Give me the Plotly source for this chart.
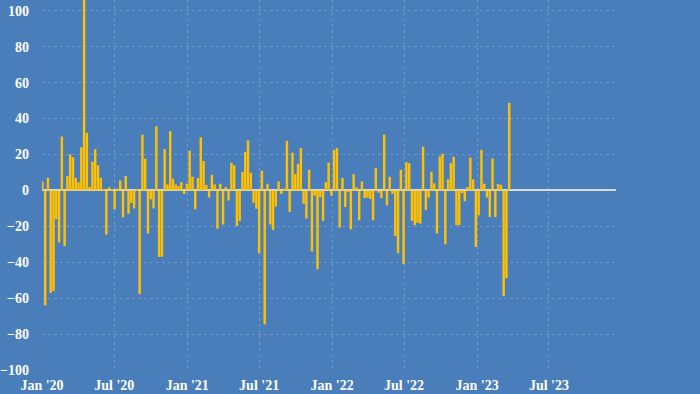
import pandas as pd
import plotly.graph_objects as go

start_date = "2020-01-02"
values = [
    5, -64, 7, -57, -56, -16, -29, 30, -31, 8,
    20, 18.5, 7, 4.5, 24, 115, 32, 2, 16, 23,
    14, 7, 0.5, -24.6, 1.7, 0.5, -10.5, 1, 5.5, -15,
    8, -13, -7, -10, 0.7, -57.8, 31, 17.6, -24, -5,
    -10, 35.7, -37, -37, 23, 3.3, 33, 6.5, 3.3, 2.4,
    4.6, -2, 3.7, 22, 7.6, -10.5, 6.9, 29.6, 16.3, 3,
    -4, 8.7, 3.3, -21.3, 3.7, -19, 1.9, -5.6, 15.4, 14,
    -19.8, -17, 10.2, 21.5, 27.8, 9.8, -6.9, -10.2, -35, 11,
    -74.6, 3.7, -19, -22, -9, 5, -2, 1, 27.6, -12,
    21, 9, 14.8, 23.5, -7.4, -15.7, 11.5, -34, -3, -43.9,
    -3.7, -17, 4.6, 15.4, -3, 22.6, 23.5, -20.7, 6.9, -9.3,
    -1, -21.7, 9, 1.7, -16.7, 5, -4.3, -4, -4.8, -16.7,
    12.6, -1.3, -4.3, 31, -8.3, 7.6, -1.9, -25.4, -35, 11.5,
    -41, 15.6, 15.2, -17, -19.4, -18, -18.5, 24.3, -11, -4,
    10.4, 3.9, -24, 18.9, 20.4, -30, 6.1, 15.2, 18.7, -19.4,
    -19.4, -1.5, -6, 1.9, 18.3, 6.1, -31.5, -13.9, 22.6, 3.7,
    -4, -14.8, 17.8, -14.8, 3.5, 3.1, -58.9, -48.9, 48.7,
]
dates = pd.date_range(start_date, periods=len(values), freq="7D")
y_ticks = [-100, -80, -60, -40, -20, 0, 20, 40, 60, 80, 100]

BG = "#4A7EBB"
TICKFONT = dict(family="Liberation Serif, DejaVu Serif, serif", size=14, color="white", weight="bold")

fig = go.Figure(go.Bar(x=dates, y=values, marker=dict(color="#FFC000", line=dict(width=0))))

fig.update_layout(
    width=700, height=394,
    paper_bgcolor=BG, plot_bgcolor=BG,
    margin=dict(l=42, r=84, t=0, b=24, autoexpand=False),
    bargap=0.12,
    showlegend=False,
)
fig.update_xaxes(
    range=["2020-01-01", "2023-12-17"],
    tick0="2020-01-01", dtick="M6", tickformat="%b '%y",
    showgrid=True, gridcolor="rgba(255,255,255,0.2)", griddash="dot", gridwidth=1,
    zeroline=False, showline=False, ticks="", ticklabelstandoff=5,
    automargin=False, tickfont=TICKFONT,
)
fig.update_yaxes(
    range=[-100, 106], tickvals=y_ticks,
    showgrid=True, gridcolor="rgba(255,255,255,0.2)", griddash="dot", gridwidth=1,
    zeroline=True, zerolinecolor="rgba(235,235,240,0.85)", zerolinewidth=1.5,
    showline=False, ticks="", ticklabelstandoff=12,
    automargin=False, tickfont=TICKFONT,
)

fig.write_html(
    "out.html",
    config={"displayModeBar": False},
    post_script="document.body.style.margin='0';document.body.style.background='" + BG + "';",
)
